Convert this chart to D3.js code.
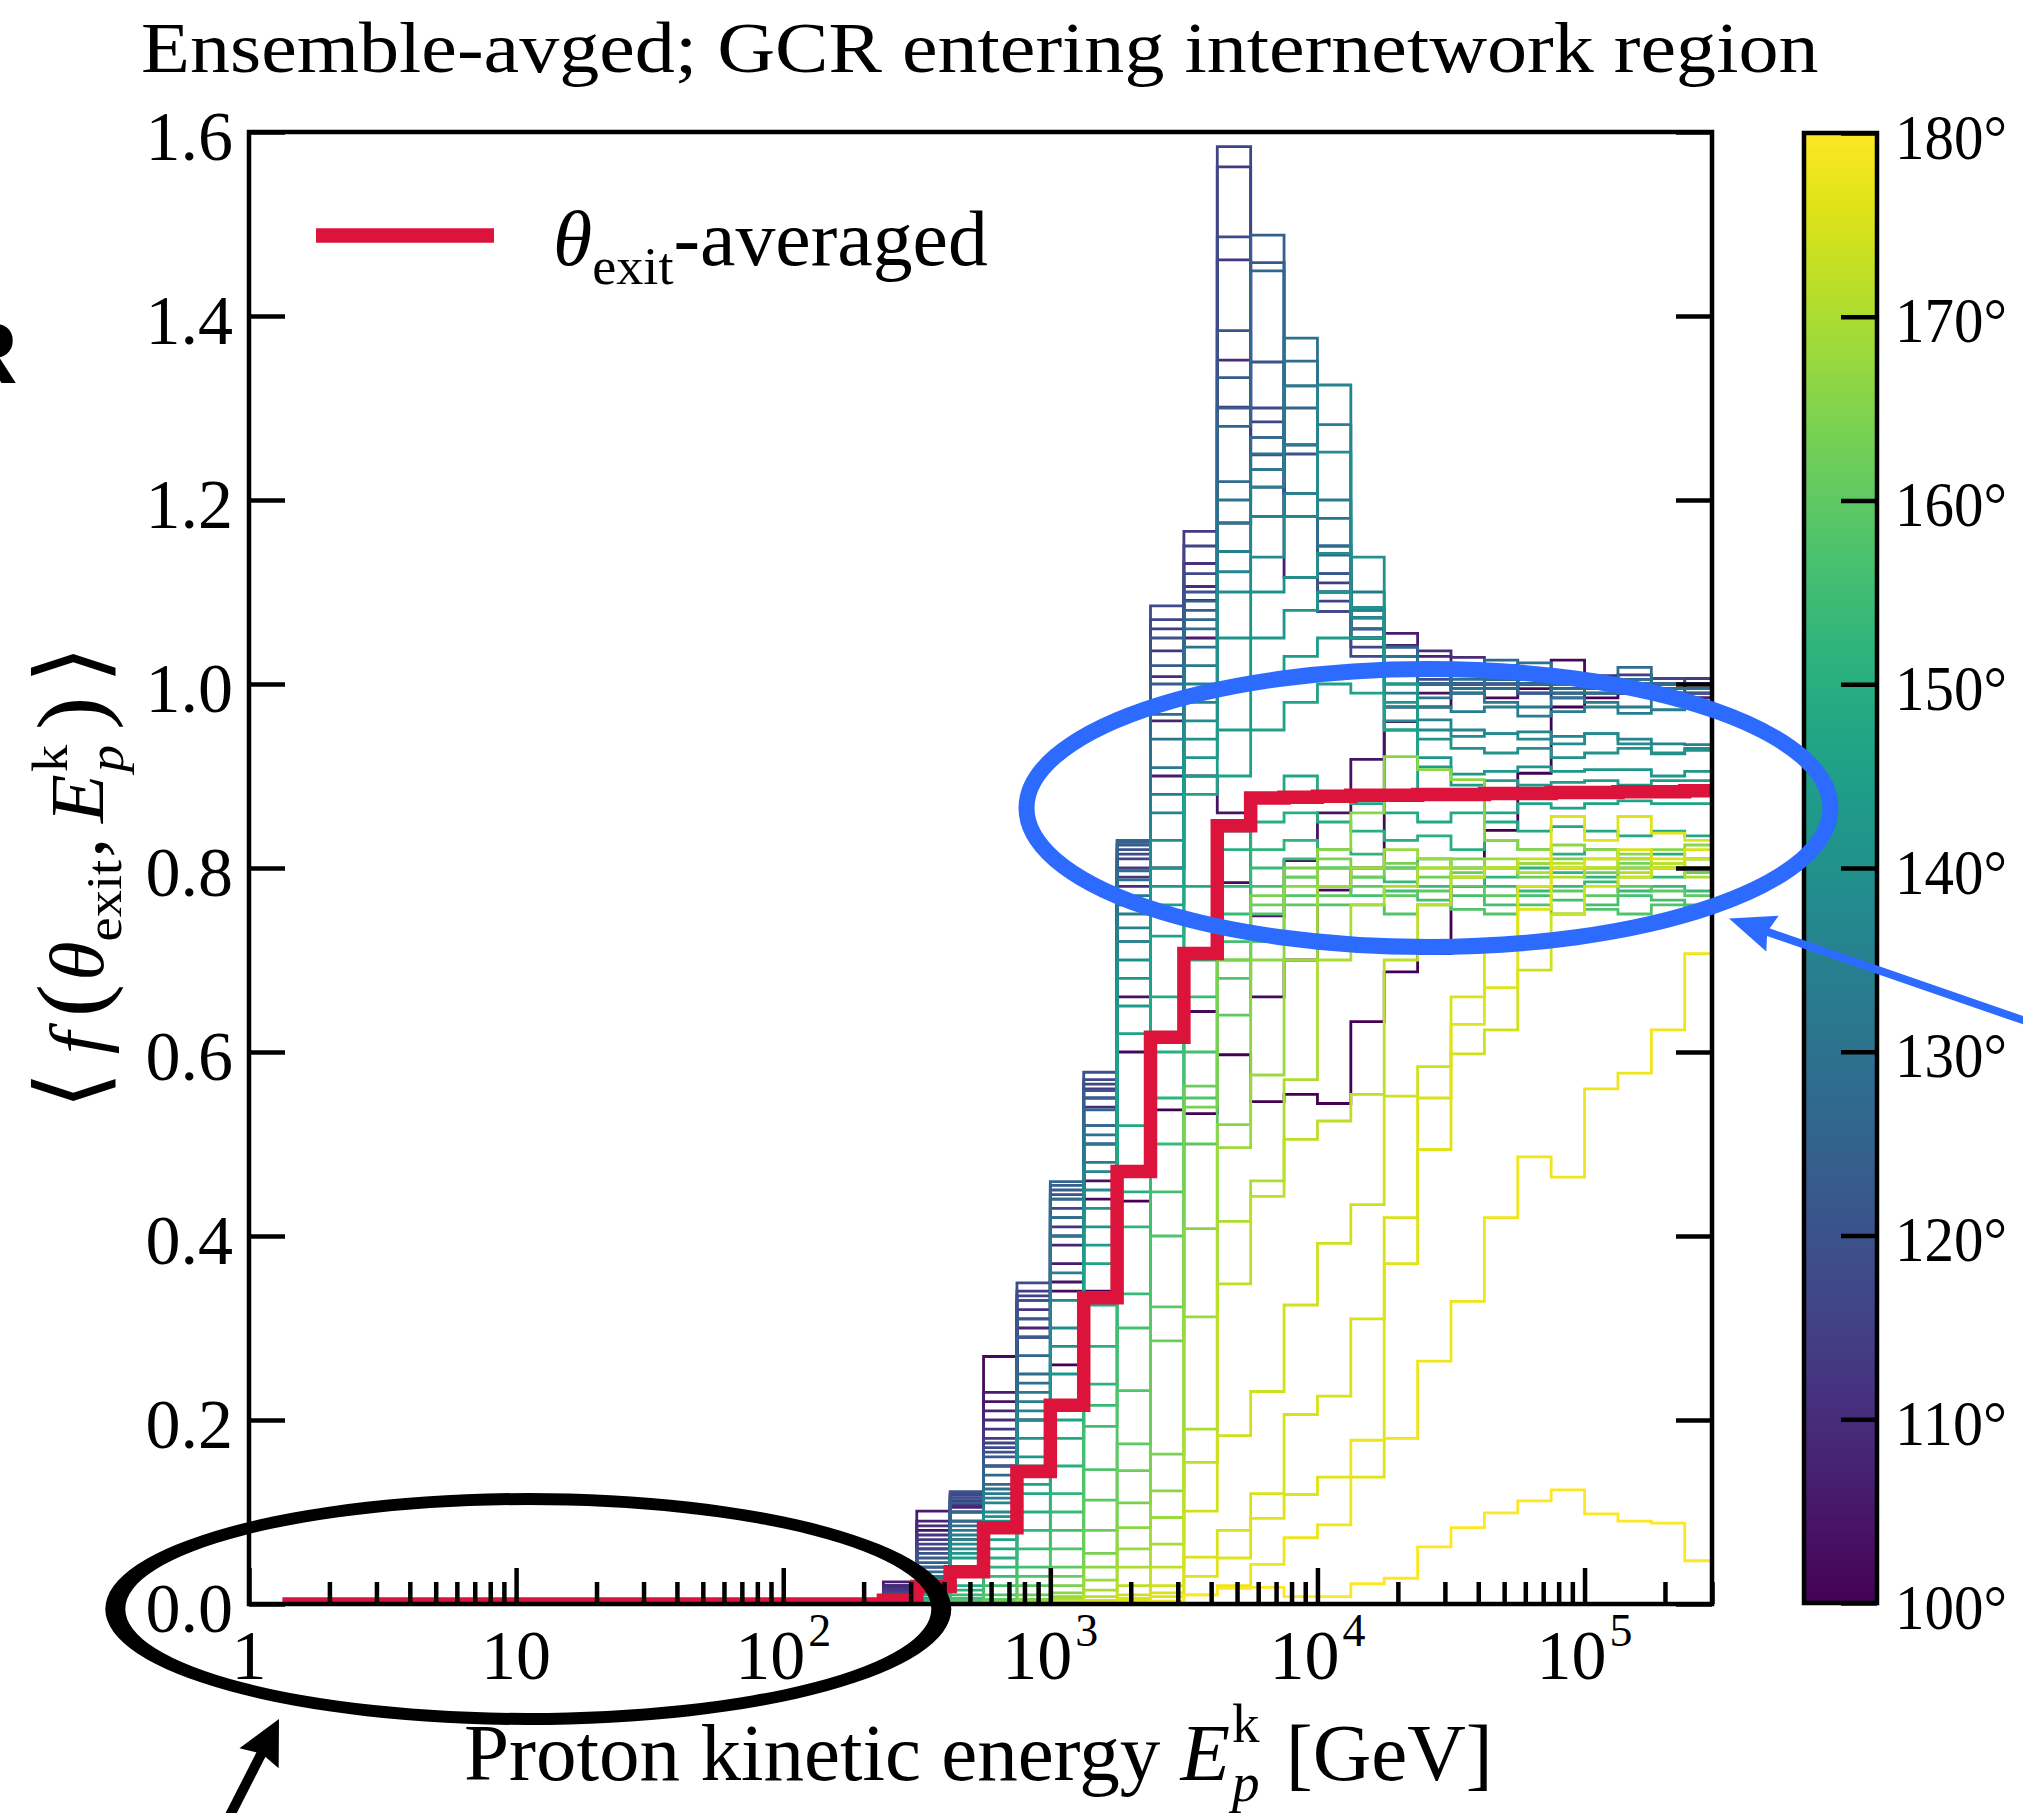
<!DOCTYPE html>
<html>
<head>
<meta charset="utf-8">
<script src="https://cdn.jsdelivr.net/npm/d3@7/dist/d3.min.js"></script>
<style>
  html, body { margin: 0; padding: 0; background: #ffffff; }
  svg { display: block; }
  text { white-space: pre; }
</style>
</head>
<body>
<svg id="fig" width="2023" height="1813" viewBox="0 0 2023 1813"></svg>
<script>
// ---------------------------------------------------------------------------
// Binning: 8 logarithmic bins per decade, edges at 10^(k/8) GeV, k = 1..44
// ---------------------------------------------------------------------------
const binsPerDecade = 8;
const edgeExponents = d3.range(1, 45);
const binEdges = edgeExponents.map(k => Math.pow(10, k / binsPerDecade));
// bins below 10^(19/8) GeV (~237 GeV) carry no transmitted protons
const emptyLowBins = [0,0,0,0,0,0,0,0,0,0,0,0,0,0,0,0,0,0];

// theta_exit-averaged transmission, all 43 bins
const thetaAveraged = [
  0,0,0,0,0,0,0,0,0,0,0,0,0,0,0,0,0,0,
  0.004,0.019,0.035,0.083,0.144,0.216,0.333,0.470,0.616,0.707,0.846,0.876,
  0.877,0.878,0.879,0.879,0.880,0.880,0.881,0.881,0.882,0.882,0.883,0.883,0.884
];

// per-exit-angle transmission, bins from 10^(19/8) GeV upward (25 bins)
const f100 = [0.010,0.040,0.070,0.150,0.200,0.260,0.340,0.438,0.537,0.533,0.597,0.546,0.554,0.544,0.633,0.687,0.707,0.780,0.841,0.903,0.975,0.985,0.995,0.990,0.985];
const f102 = [0.015,0.060,0.090,0.269,0.290,0.340,0.440,0.600,0.620,0.644,0.784,0.660,0.700,0.776,0.800,0.959,0.975,0.990,0.985,0.995,1.026,0.990,0.990,0.985,0.980];
const f104 = [0.020,0.080,0.100,0.220,0.290,0.350,0.460,0.660,0.800,0.900,0.860,0.748,0.808,0.860,0.918,0.975,0.990,1.000,0.995,1.000,0.990,1.000,0.995,0.990,0.990];
const f106 = [0.024,0.101,0.110,0.230,0.310,0.370,0.500,0.720,0.900,1.050,1.175,1.182,1.116,1.079,1.050,1.055,1.010,1.000,0.995,0.990,0.985,0.995,0.990,0.985,0.990];
const f108 = [0.020,0.090,0.105,0.210,0.300,0.390,0.520,0.760,0.960,1.091,1.301,1.214,1.182,1.142,1.072,1.042,1.030,1.010,1.000,1.005,0.995,1.000,0.990,0.995,0.985];
const f110 = [0.018,0.085,0.115,0.200,0.330,0.400,0.540,0.780,1.008,1.106,1.352,1.268,1.207,1.100,1.060,1.020,1.036,1.029,1.010,1.000,1.000,1.009,0.995,1.000,0.995];
const f112 = [0.016,0.075,0.108,0.190,0.320,0.410,0.550,0.790,1.036,1.131,1.461,1.249,1.182,1.120,1.083,1.030,1.020,1.015,1.005,1.000,1.010,1.000,1.005,0.995,1.000];
const f114 = [0.014,0.070,0.112,0.180,0.340,0.420,0.560,0.800,1.060,1.166,1.562,1.233,1.260,1.110,1.050,1.040,1.010,1.000,1.020,1.010,1.000,0.995,1.010,1.000,1.006];
const f116 = [0.012,0.065,0.118,0.175,0.335,0.430,0.565,0.810,1.070,1.150,1.584,1.285,1.207,1.090,1.040,1.020,1.000,1.010,1.005,1.000,0.995,1.000,1.000,1.006,1.000];
const f118 = [0.010,0.060,0.120,0.170,0.349,0.440,0.570,0.815,1.085,1.120,1.486,1.300,1.182,1.079,1.030,1.010,1.005,1.000,0.995,1.005,1.000,0.995,0.990,1.000,0.995];
const f120 = [0.009,0.055,0.122,0.165,0.330,0.445,0.578,0.820,1.050,1.100,1.384,1.350,1.250,1.100,1.050,1.020,1.000,0.995,1.000,0.990,0.995,1.000,1.000,0.995,1.000];
const f122 = [0.008,0.050,0.115,0.160,0.310,0.450,0.558,0.825,1.020,1.090,1.333,1.458,1.260,1.120,1.060,1.010,1.000,0.990,0.995,1.000,0.990,0.995,0.990,0.995,0.990];
const f124 = [0.007,0.045,0.110,0.150,0.290,0.455,0.550,0.828,1.000,1.080,1.300,1.488,1.324,1.140,1.072,1.020,1.000,0.995,1.000,0.990,0.995,0.990,1.000,0.990,0.995];
const f126 = [0.006,0.040,0.100,0.140,0.270,0.459,0.537,0.830,0.980,1.070,1.280,1.449,1.300,1.150,1.083,1.040,1.010,1.000,1.026,1.000,0.995,1.000,0.995,1.000,0.995];
const f128 = [0.005,0.035,0.090,0.130,0.250,0.440,0.520,0.797,0.967,1.060,1.220,1.268,1.351,1.150,1.060,1.020,1.000,1.005,0.995,1.000,0.990,1.000,1.018,1.000,0.995];
const f130 = [0.005,0.030,0.085,0.125,0.240,0.420,0.510,0.787,0.940,1.040,1.200,1.250,1.376,1.180,1.080,1.030,1.010,0.995,1.005,1.023,1.000,0.990,1.005,0.995,1.000];
const f132 = [0.004,0.028,0.080,0.120,0.230,0.400,0.500,0.770,0.909,1.020,1.175,1.233,1.324,1.200,1.100,1.000,0.985,0.990,0.980,0.975,0.985,0.980,0.975,0.985,0.975];
const f134 = [0.004,0.025,0.075,0.115,0.220,0.360,0.480,0.750,0.880,1.000,1.144,1.214,1.260,1.282,1.050,0.990,0.975,0.970,0.975,0.965,0.970,0.975,0.968,0.972,0.975];
const f136 = [0.003,0.022,0.070,0.110,0.210,0.330,0.470,0.735,0.860,0.980,1.122,1.182,1.207,1.325,1.080,0.975,0.961,0.950,0.946,0.948,0.943,0.946,0.940,0.935,0.934];
const f138 = [0.003,0.020,0.065,0.100,0.200,0.300,0.450,0.720,0.830,0.960,1.100,1.138,1.182,1.252,1.072,0.960,0.950,0.943,0.946,0.940,0.935,0.946,0.935,0.924,0.930];
const f140 = [0.003,0.018,0.060,0.095,0.180,0.280,0.430,0.700,0.800,0.940,1.050,1.100,1.116,1.142,1.138,0.980,0.940,0.930,0.925,0.930,0.920,0.925,0.930,0.925,0.928];
const f142 = [0.002,0.015,0.055,0.090,0.160,0.250,0.410,0.680,0.780,0.920,1.000,1.050,1.080,1.100,1.083,0.950,0.920,0.902,0.905,0.910,0.905,0.907,0.907,0.900,0.905];
const f144 = [0.002,0.012,0.050,0.080,0.150,0.220,0.390,0.650,0.760,0.900,0.950,1.000,1.030,1.050,1.050,1.000,0.910,0.890,0.895,0.890,0.893,0.895,0.890,0.895,0.895];
const f146 = [0.002,0.010,0.040,0.070,0.130,0.200,0.370,0.620,0.726,0.880,0.900,0.950,0.980,1.000,0.990,0.950,0.880,0.877,0.860,0.870,0.865,0.870,0.873,0.870,0.870];
const f148 = [0.003,0.010,0.030,0.060,0.120,0.180,0.325,0.520,0.660,0.780,0.840,0.880,0.900,0.880,0.870,0.860,0.850,0.860,0.850,0.840,0.845,0.840,0.835,0.840,0.835];
const f150 = [0.002,0.006,0.020,0.050,0.100,0.150,0.280,0.448,0.600,0.740,0.820,0.850,0.860,0.850,0.840,0.830,0.835,0.820,0.830,0.820,0.815,0.820,0.810,0.815,0.810];
const f152 = [0.001,0.004,0.015,0.040,0.080,0.120,0.239,0.410,0.550,0.700,0.780,0.820,0.830,0.820,0.815,0.800,0.810,0.800,0.790,0.800,0.795,0.790,0.800,0.790,0.795];
const f154 = [0.001,0.003,0.010,0.030,0.060,0.100,0.216,0.337,0.500,0.660,0.750,0.800,0.810,0.800,0.790,0.785,0.780,0.790,0.780,0.775,0.780,0.785,0.775,0.780,0.775];
const f156 = [0.000,0.002,0.006,0.020,0.040,0.080,0.193,0.300,0.448,0.600,0.720,0.780,0.790,0.780,0.770,0.775,0.765,0.770,0.760,0.770,0.765,0.760,0.770,0.765,0.760];
const f158 = [0.000,0.001,0.004,0.010,0.030,0.060,0.146,0.232,0.400,0.550,0.680,0.750,0.770,0.760,0.760,0.750,0.760,0.755,0.750,0.760,0.750,0.755,0.750,0.760,0.755];
const f160 = [0.000,0.000,0.002,0.005,0.020,0.040,0.113,0.174,0.323,0.500,0.640,0.720,0.760,0.770,0.780,0.770,0.775,0.780,0.770,0.780,0.775,0.770,0.780,0.775,0.770];
const f162 = [0.000,0.000,0.001,0.003,0.010,0.030,0.080,0.145,0.286,0.563,0.700,0.760,0.790,0.800,0.790,0.800,0.790,0.795,0.800,0.790,0.800,0.795,0.790,0.800,0.795];
const f164 = [0.000,0.000,0.000,0.002,0.005,0.020,0.055,0.110,0.163,0.540,0.700,0.770,0.800,0.810,0.800,0.805,0.800,0.810,0.800,0.805,0.810,0.800,0.805,0.800,0.810];
const f166 = [0.000,0.000,0.000,0.001,0.003,0.012,0.040,0.083,0.123,0.408,0.521,0.700,0.780,0.820,0.860,0.921,0.907,0.896,0.830,0.820,0.825,0.820,0.815,0.820,0.825];
const f168 = [0.000,0.000,0.000,0.000,0.002,0.008,0.026,0.060,0.094,0.312,0.496,0.575,0.700,0.780,0.800,0.820,0.810,0.800,0.810,0.805,0.800,0.810,0.800,0.805,0.800];
const f170 = [0.000,0.000,0.000,0.000,0.001,0.005,0.015,0.040,0.065,0.190,0.416,0.460,0.570,0.700,0.760,0.780,0.800,0.790,0.800,0.795,0.790,0.800,0.795,0.800,0.790];
const f172 = [0.000,0.000,0.000,0.000,0.000,0.002,0.008,0.020,0.040,0.154,0.348,0.443,0.505,0.525,0.554,0.700,0.760,0.790,0.800,0.810,0.805,0.800,0.810,0.805,0.810];
const f174 = [0.000,0.000,0.000,0.000,0.000,0.001,0.004,0.010,0.020,0.101,0.183,0.231,0.325,0.392,0.434,0.552,0.584,0.598,0.624,0.689,0.750,0.780,0.790,0.800,0.810];
const f175 = [0.000,0.000,0.000,0.000,0.000,0.000,0.002,0.006,0.012,0.051,0.080,0.120,0.206,0.226,0.310,0.420,0.550,0.660,0.720,0.780,0.800,0.810,0.820,0.810,0.820];
const f176 = [0.000,0.000,0.000,0.000,0.000,0.000,0.001,0.003,0.008,0.030,0.050,0.093,0.119,0.138,0.138,0.370,0.494,0.630,0.670,0.755,0.856,0.830,0.856,0.838,0.830];
const f178 = [0.000,0.000,0.000,0.000,0.000,0.000,0.000,0.001,0.003,0.010,0.020,0.043,0.072,0.086,0.178,0.180,0.264,0.329,0.420,0.486,0.464,0.560,0.577,0.624,0.707];
const f180 = [0.000,0.000,0.000,0.000,0.000,0.000,0.000,0.000,0.002,0.010,0.017,0.018,0.008,0.008,0.022,0.028,0.062,0.083,0.099,0.112,0.124,0.098,0.090,0.088,0.047];

const exitAngles = [100,102,104,106,108,110,112,114,116,118,120,122,124,126,128,130,132,134,136,138,
                    140,142,144,146,148,150,152,154,156,158,160,162,164,166,168,170,172,174,175,176,178,180];
const angleSeries = [f100,f102,f104,f106,f108,f110,f112,f114,f116,f118,f120,f122,f124,f126,f128,f130,f132,f134,f136,f138,
                     f140,f142,f144,f146,f148,f150,f152,f154,f156,f158,f160,f162,f164,f166,f168,f170,f172,f174,f175,f176,f178,f180];

// axis ticks and labels
const xMajorTicks = [1, 10, 100, 1e3, 1e4, 1e5];
const xTickMantissa = ["1", "10", "10", "10", "10", "10"];
const xTickExponent = ["", "", "2", "3", "4", "5"];
const yTicks = [0, 0.2, 0.4, 0.6, 0.8, 1.0, 1.2, 1.4, 1.6];
const yTickLabels = ["0.0", "0.2", "0.4", "0.6", "0.8", "1.0", "1.2", "1.4", "1.6"];
const cbarTicks = [100, 110, 120, 130, 140, 150, 160, 170, 180];
const cbarTickLabels = ["100°", "110°", "120°", "130°", "140°", "150°", "160°", "170°", "180°"];

// ---------------------------------------------------------------------------
const SERIF = "'Liberation Serif', 'DejaVu Serif', serif";
const svg = d3.select("#fig");
const plot = { left: 249, right: 1712, top: 132, bottom: 1604 };
const cbar = { left: 1804, right: 1877, top: 133, bottom: 1603 };

const x = d3.scaleLog().domain([1, 3e5]).range([plot.left, plot.right]);
const y = d3.scaleLinear().domain([0, 1.6]).range([plot.bottom, plot.top]);
const cscale = d3.scaleLinear().domain([100, 180]).range([cbar.bottom, cbar.top]);
const colorOf = t => d3.interpolateViridis((t - 100) / 80);

svg.append("rect").attr("width", 2023).attr("height", 1813).attr("fill", "#fff");

svg.append("defs").append("clipPath").attr("id", "plotClip")
  .append("rect").attr("x", plot.left).attr("y", plot.top)
  .attr("width", plot.right - plot.left).attr("height", plot.bottom - plot.top);

// step outline of a histogram
function stepPoints(vals) {
  const pts = [[binEdges[0], 0]];
  vals.forEach((v, i) => { pts.push([binEdges[i], v]); pts.push([binEdges[i + 1], v]); });
  pts.push([binEdges[vals.length], 0]);
  return pts;
}
const stepLine = d3.line().x(d => x(d[0])).y(d => y(d[1]));

const gHist = svg.append("g").attr("clip-path", "url(#plotClip)");
exitAngles.forEach((t, i) => {
  const vals = emptyLowBins.concat(angleSeries[i]);
  gHist.append("path")
    .attr("d", stepLine(stepPoints(vals)))
    .attr("fill", "none")
    .attr("stroke", colorOf(t))
    .attr("stroke-width", 2.8)
    .attr("stroke-linejoin", "miter");
});
gHist.append("path")
  .attr("d", stepLine(stepPoints(thetaAveraged)))
  .attr("fill", "none")
  .attr("stroke", "#dc143c")
  .attr("stroke-width", 13.5)
  .attr("stroke-linejoin", "miter");

// ---------------------------------------------------------------------------
// axes (ticks point inward)
function styleAxis(g, size) {
  g.select(".domain").remove();
  g.selectAll(".tick line").attr("stroke", "#000").attr("stroke-width", 4.5);
  g.attr("font-family", SERIF).attr("font-size", size || 70);
  g.selectAll(".tick text").attr("fill", "#000");
}
const xMinorTicks = [];
for (let d = 1; d <= 1e5; d *= 10) for (let m = 2; m <= 9; m++) if (d * m <= 3e5) xMinorTicks.push(d * m);

svg.append("g").attr("transform", `translate(0,${plot.bottom})`)
  .call(d3.axisBottom(x).tickValues(xMajorTicks).tickSize(-36).tickSizeOuter(0).tickFormat(() => ""))
  .call(styleAxis);
svg.append("g").attr("transform", `translate(0,${plot.bottom})`)
  .call(d3.axisBottom(x).tickValues(xMinorTicks).tickSize(-22).tickSizeOuter(0).tickFormat(() => ""))
  .call(styleAxis);
const gLeft = svg.append("g").attr("transform", `translate(${plot.left},0)`)
  .call(d3.axisLeft(y).tickValues(yTicks).tickSize(-36).tickSizeOuter(0).tickPadding(16)
    .tickFormat((d, i) => yTickLabels[i]))
  .call(styleAxis);
gLeft.selectAll(".tick text").attr("dy", 27);
svg.append("g").attr("transform", `translate(${plot.right},0)`)
  .call(d3.axisRight(y).tickValues(yTicks).tickSize(-36).tickSizeOuter(0).tickFormat(() => ""))
  .call(styleAxis);

// frame
svg.append("rect").attr("x", plot.left).attr("y", plot.top)
  .attr("width", plot.right - plot.left).attr("height", plot.bottom - plot.top)
  .attr("fill", "none").attr("stroke", "#000").attr("stroke-width", 4.5);

// x tick labels with powers of ten
xMajorTicks.forEach((v, i) => {
  const t = svg.append("text").attr("x", x(v)).attr("y", 1679)
    .attr("text-anchor", "middle").attr("font-family", SERIF).attr("font-size", 70);
  t.append("tspan").text(xTickMantissa[i]);
  if (xTickExponent[i]) {
    t.append("tspan").attr("font-size", 46).attr("dy", -33).attr("dx", 3).text(xTickExponent[i]);
  }
});

// ---------------------------------------------------------------------------
// rich text helper: parts {t, it, s (size factor), up (em shift), over (stack on previous)}
function richText(parent, parts, size) {
  const text = parent.append("text").attr("font-family", SERIF).attr("font-size", size).attr("fill", "#000");
  let cur = 0, prev = null;
  parts.forEach(p => {
    const ts = text.append("tspan").text(p.t)
      .attr("font-size", size * (p.s || 1))
      .attr("font-style", p.it ? "italic" : "normal");
    const up = p.up || 0;
    ts.attr("dy", (cur - up) * size);
    cur = up;
    let dx = p.dx || 0;
    if (p.over && prev) dx -= prev.node().getComputedTextLength();
    if (dx) ts.attr("dx", dx);
    prev = ts;
  });
  return text;
}
function fitSpan(g, left, right) {
  const b = g.node().getBBox();
  const s = (right - left) / b.width;
  g.attr("transform", `translate(${left},0) scale(${s},1) translate(${-b.x},0)`);
}

// title
const gTitle = svg.append("g");
richText(gTitle, [{ t: "Ensemble-avged; GCR entering internetwork region" }], 72).attr("y", 72);
fitSpan(gTitle, 141, 1819);

// x label
const gXLab = svg.append("g");
richText(gXLab, [
  { t: "Proton kinetic energy " },
  { t: "E", it: true },
  { t: "k", s: 0.68, up: 0.47, dx: 2 },
  { t: "p", it: true, s: 0.68, up: -0.26, over: true },
  { t: " [GeV]", dx: 6 }
], 80).attr("y", 1780);
fitSpan(gXLab, 464, 1493);

// y label (rotated)
const gYOuter = svg.append("g").attr("transform", "translate(103,877) rotate(-90)");
const gYInner = gYOuter.append("g");
richText(gYInner, [
  { t: "\u27E8", s: 1.25 },
  { t: "f", it: true, dx: 16 },
  { t: "(", s: 1.25, dx: 14 },
  { t: "θ", it: true, dx: 3 },
  { t: "exit", s: 0.68, up: -0.24 },
  { t: ",", dx: 2 },
  { t: "E", it: true, dx: 14 },
  { t: "k", s: 0.68, up: 0.47, dx: 2 },
  { t: "p", it: true, s: 0.68, up: -0.26, over: true },
  { t: ")", s: 1.25, dx: 14 },
  { t: "\u27E9", s: 1.25, dx: 12 }
], 76);
fitSpan(gYInner, -233, 232);

// legend
svg.append("line").attr("x1", 316).attr("x2", 494).attr("y1", 235.5).attr("y2", 235.5)
  .attr("stroke", "#dc143c").attr("stroke-width", 14.5);
const gLeg = svg.append("g");
richText(gLeg, [
  { t: "θ", it: true },
  { t: "exit", s: 0.68, up: -0.24 },
  { t: "-averaged" }
], 78).attr("y", 265);
fitSpan(gLeg, 553, 988);

// ---------------------------------------------------------------------------
// colorbar
const grad = svg.select("defs").append("linearGradient").attr("id", "viridisBar")
  .attr("x1", 0).attr("y1", 1).attr("x2", 0).attr("y2", 0);
d3.range(0, 1.0001, 0.05).forEach(o => {
  grad.append("stop").attr("offset", o).attr("stop-color", d3.interpolateViridis(o));
});
svg.append("rect").attr("x", cbar.left).attr("y", cbar.top)
  .attr("width", cbar.right - cbar.left).attr("height", cbar.bottom - cbar.top)
  .attr("fill", "url(#viridisBar)");
const gCbar = svg.append("g").attr("transform", `translate(${cbar.right},0)`)
  .call(d3.axisRight(cscale).tickValues(cbarTicks).tickSize(-36).tickSizeOuter(0).tickPadding(18)
    .tickFormat((d, i) => cbarTickLabels[i]))
  .call(styleAxis, 64);
gCbar.selectAll(".tick text").attr("dy", 25)
  .attr("textLength", 112).attr("lengthAdjust", "spacingAndGlyphs");
svg.append("rect").attr("x", cbar.left).attr("y", cbar.top)
  .attr("width", cbar.right - cbar.left).attr("height", cbar.bottom - cbar.top)
  .attr("fill", "none").attr("stroke", "#000").attr("stroke-width", 4.5);

// ---------------------------------------------------------------------------
// annotations
function ellipseRing(cx, cy, rxo, ryo, rxi, ryi) {
  const e = (rx, ry) => `M${cx - rx},${cy} A${rx},${ry} 0 1,0 ${cx + rx},${cy} A${rx},${ry} 0 1,0 ${cx - rx},${cy} Z`;
  return e(rxo, ryo) + " " + e(rxi, ryi);
}
function arrow(g, x0, y0, x1, y1, color, width, headLen, headHalf) {
  const L = Math.hypot(x1 - x0, y1 - y0);
  const ux = (x1 - x0) / L, uy = (y1 - y0) / L, px = -uy, py = ux;
  const bx = x1 - ux * headLen, by = y1 - uy * headLen;
  g.append("line").attr("x1", x0).attr("y1", y0)
    .attr("x2", bx + ux * headLen * 0.3).attr("y2", by + uy * headLen * 0.3)
    .attr("stroke", color).attr("stroke-width", width);
  g.append("path")
    .attr("d", `M${x1},${y1} L${bx + px * headHalf},${by + py * headHalf} ` +
               `L${bx + ux * headLen * 0.12},${by + uy * headLen * 0.12} ` +
               `L${bx - px * headHalf},${by - py * headHalf} Z`)
    .attr("fill", color);
}
const gAnn = svg.append("g");
gAnn.append("ellipse").attr("cx", 1428.5).attr("cy", 808).attr("rx", 402).attr("ry", 139)
  .attr("fill", "none").attr("stroke", "#2d6bff").attr("stroke-width", 16);
arrow(gAnn, 2040, 1026, 1729, 918.6, "#2d6bff", 8, 46, 19);
gAnn.append("path").attr("d", ellipseRing(528.3, 1609, 423, 116, 403, 104))
  .attr("fill", "#000").attr("fill-rule", "evenodd");
arrow(gAnn, 220, 1835, 279, 1719, "#000", 10, 44, 22);

// panel letter at the left margin
svg.append("text").attr("x", -46).attr("y", 383)
  .attr("font-family", "'Liberation Sans', 'DejaVu Sans', sans-serif")
  .attr("font-weight", "bold").attr("font-size", 88).text("R");
</script>
</body>
</html>
